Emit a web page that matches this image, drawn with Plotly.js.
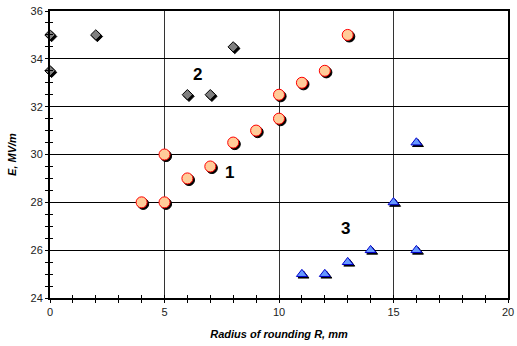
<!DOCTYPE html>
<html><head><meta charset="utf-8">
<script src="https://cdn.plot.ly/plotly-3.0.1.min.js"></script>
<style>html,body{margin:0;padding:0;background:#fff}#chart{width:517px;height:346px}</style>
</head><body><div id="chart"></div>
<script>
// Series 1 (circles)
const x1 = [4, 5, 5, 6, 7, 8, 9, 10, 10, 11, 12, 13];
const y1 = [28, 28, 30, 29, 29.5, 30.5, 31, 31.5, 32.5, 33, 33.5, 35];
// Series 2 (diamonds)
const x2 = [0, 0, 2, 6, 7, 8];
const y2 = [35, 33.5, 35, 32.5, 32.5, 34.5];
// Series 3 (triangles)
const x3 = [11, 12, 13, 14, 15, 16, 16];
const y3 = [25, 25, 25.5, 26, 28, 26, 30.5];
// Series labels
const labelText = ["1", "2", "3"];
const labelX = [7.85, 6.45, 12.9];
const labelY = [29.25, 33.35, 26.9];

const xr = [0, 20], yr = [24, 36];
const W = 517, H = 346, M = {l: 50, r: 9, t: 11, b: 48};
const pw = W - M.l - M.r, ph = H - M.t - M.b;
const sdx = 1.6 * (xr[1]-xr[0]) / pw, sdy = 1.6 * (yr[1]-yr[0]) / ph;

const styles = [
  {x: x1, y: y1, symbol: 'circle', fill: '#FFCC99', line: '#FF0000', size: 11},
  {x: x2, y: y2, symbol: 'diamond', fill: '#808080', line: '#000000', size: 8},
  {x: x3, y: y3, symbol: 'triangle-up', fill: '#6699FF', line: '#0000CC', size: 9.5}
];
const traces = [];
styles.forEach(s => traces.push({x: s.x, y: s.y, xaxis: 'x2', yaxis: 'y2', mode: 'markers', cliponaxis: false, hoverinfo: 'skip',
  marker: {symbol: s.symbol, size: s.size, color: '#000', line: {color: '#000', width: 1}}}));
styles.forEach(s => traces.push({x: s.x, y: s.y, xaxis: 'x3', yaxis: 'y3', mode: 'markers', cliponaxis: false,
  marker: {symbol: s.symbol, size: s.size, color: s.fill, line: {color: s.line, width: 1}}}));

const tickFont = {family: 'Liberation Sans, Arial, sans-serif', size: 11, color: '#222'};
const titleFont = {family: 'Liberation Sans, Arial, sans-serif', size: 11, color: '#000', weight: 'bold', style: 'italic'};
const hidden = {showgrid: false, zeroline: false, showticklabels: false, showline: false, ticks: ''};

const layout = {
  width: W, height: H, margin: M, showlegend: false,
  paper_bgcolor: '#fff', plot_bgcolor: '#fff',
  xaxis: {range: xr, dtick: 5, tick0: 0, showgrid: true, gridcolor: '#333', gridwidth: 1, zeroline: false,
    showline: true, linecolor: '#000', linewidth: 2, mirror: true, ticks: 'outside', ticklen: 3, tickwidth: 1, tickcolor: '#000',
    minor: {dtick: 1, ticks: 'outside', ticklen: 3, tickwidth: 1, tickcolor: '#000', showgrid: false},
    tickfont: tickFont, title: {text: 'Radius of rounding R, mm', font: titleFont, standoff: 13}},
  yaxis: {range: yr, dtick: 2, tick0: 24, showgrid: true, gridcolor: '#000', gridwidth: 1, zeroline: false,
    showline: true, linecolor: '#000', linewidth: 2, mirror: true, ticks: 'outside', ticklen: 3, tickwidth: 1, tickcolor: '#000',
    minor: {dtick: 0.5, ticks: 'outside', ticklen: 3, tickwidth: 1, tickcolor: '#000', showgrid: false},
    tickfont: tickFont, title: {text: 'E, MV/m', font: titleFont, standoff: 12}},
  xaxis2: Object.assign({overlaying: 'x', range: [xr[0]-sdx, xr[1]-sdx]}, hidden),
  yaxis2: Object.assign({overlaying: 'y', range: [yr[0]+sdy, yr[1]+sdy]}, hidden),
  xaxis3: {overlaying: 'x', range: xr, dtick: 5, tick0: 0, showgrid: false, zeroline: false, showticklabels: false, showline: false,
    ticks: 'inside', ticklen: 3, tickwidth: 1, tickcolor: '#000',
    minor: {dtick: 1, ticks: 'inside', ticklen: 3, tickwidth: 1, tickcolor: '#000', showgrid: false}},
  yaxis3: {overlaying: 'y', range: yr, dtick: 2, tick0: 24, showgrid: false, zeroline: false, showticklabels: false, showline: false,
    ticks: 'inside', ticklen: 3, tickwidth: 1, tickcolor: '#000',
    minor: {dtick: 0.5, ticks: 'inside', ticklen: 3, tickwidth: 1, tickcolor: '#000', showgrid: false}},
  annotations: labelText.map((t, i) => ({x: labelX[i], y: labelY[i], xref: 'x', yref: 'y', text: '<b>' + t + '</b>', showarrow: false,
    font: {family: 'Liberation Sans, Arial, sans-serif', size: 17, color: '#000'}}))
};
Plotly.newPlot('chart', traces, layout, {displayModeBar: false, staticPlot: true});
</script></body></html>
